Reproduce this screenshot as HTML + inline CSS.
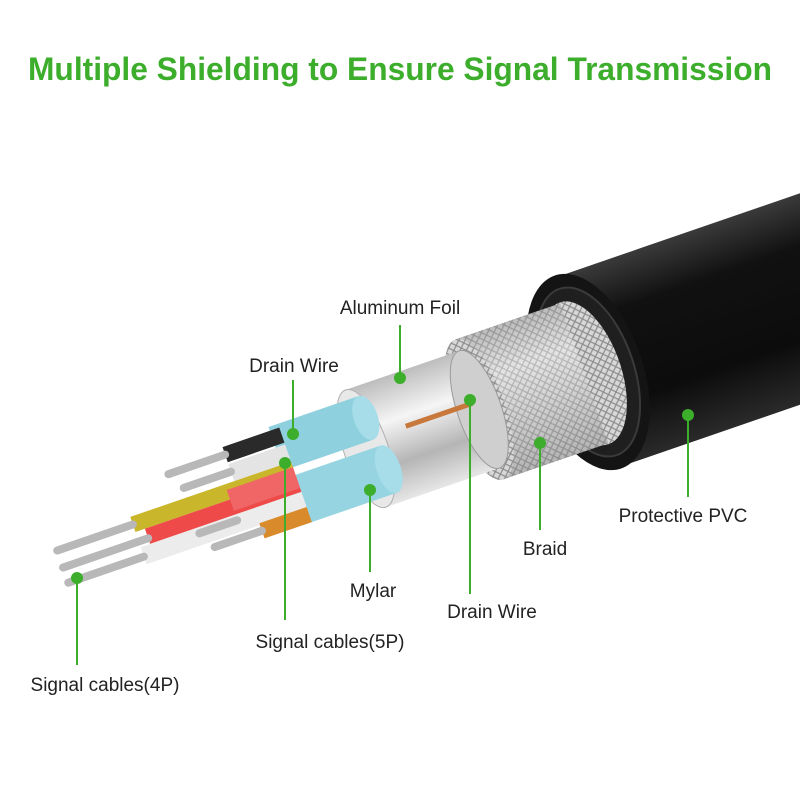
<!DOCTYPE html>
<html><head><meta charset="utf-8"><style>
html,body{margin:0;padding:0;background:#fff}
svg{display:block}
text{font-family:"Liberation Sans","DejaVu Sans",sans-serif}
</style></head><body>
<svg width="800" height="800" viewBox="0 0 800 800" xmlns="http://www.w3.org/2000/svg">
<defs>
<linearGradient id="blk" x1="0" y1="0" x2="0" y2="1">
<stop offset="0" stop-color="#3a3a3a"/><stop offset="0.25" stop-color="#111"/><stop offset="0.7" stop-color="#0c0c0c"/><stop offset="1" stop-color="#2a2a2a"/></linearGradient>
<linearGradient id="sil" x1="0" y1="0" x2="0" y2="1">
<stop offset="0" stop-color="#9a9a9a"/><stop offset="0.3" stop-color="#f2f2f2"/><stop offset="0.6" stop-color="#c9c9c9"/><stop offset="1" stop-color="#8a8a8a"/></linearGradient>
<linearGradient id="foil" x1="0" y1="0" x2="0" y2="1">
<stop offset="0" stop-color="#bdbdbd"/><stop offset="0.35" stop-color="#f5f5f5"/><stop offset="0.7" stop-color="#b5b5b5"/><stop offset="1" stop-color="#e6e6e6"/></linearGradient>
<pattern id="br" width="8" height="8" patternUnits="userSpaceOnUse">
<rect width="8" height="8" fill="#d8d8d8"/><path d="M0 0L8 8M8 0L0 8" stroke="#8c8c8c" stroke-width="1.2"/></pattern>
</defs>
<text x="28" y="80" textLength="744" lengthAdjust="spacingAndGlyphs" font-size="32" font-weight="bold" fill="#3cae2c">Multiple Shielding to Ensure Signal Transmission</text>

<g transform="translate(588,372) rotate(-19)">
  <rect x="0" y="-100" width="420" height="200" fill="url(#blk)"/>
  <ellipse cx="0" cy="0" rx="55" ry="102" fill="#141414"/>
  <ellipse cx="0" cy="0" rx="46" ry="88" fill="#1f1f1f" stroke="#3a3a3a" stroke-width="2"/>
  <ellipse cx="-4" cy="0" rx="37" ry="75" fill="url(#br)"/>
  <rect x="-115" y="-74" width="111" height="148" fill="url(#br)"/>
  <rect x="-115" y="-74" width="111" height="148" fill="url(#sil)" opacity="0.45"/>
  <ellipse cx="-115" cy="0" rx="26" ry="74" fill="url(#br)"/>
  <rect x="-235" y="-62" width="120" height="124" fill="url(#foil)"/>
  <ellipse cx="-115" cy="0" rx="22" ry="62" fill="#cfcfcf" stroke="#9a9a9a"/>
  <ellipse cx="-235" cy="0" rx="22" ry="62" fill="#e8e8e8" stroke="#b0b0b0"/>
  <line x1="-190" y1="-8" x2="-120" y2="-8" stroke="#c8783a" stroke-width="5"/>
  <rect x="-320" y="-52" width="95" height="46" fill="#8fd0de"/>
  <ellipse cx="-225" cy="-29" rx="12" ry="23" fill="#a7dde8"/>
  <rect x="-320" y="2" width="100" height="50" fill="#96d4e2"/>
  <ellipse cx="-220" cy="27" rx="12" ry="25" fill="#a7dde8"/>
  <rect x="-370" y="-48" width="60" height="16" fill="#2a2a2a"/>
  <rect x="-370" y="-30" width="60" height="18" fill="#e4e4e4"/>
  <rect x="-480" y="-12" width="170" height="16" fill="#c9b62a"/>
  <rect x="-470" y="4" width="160" height="16" fill="#ee4a4a"/>
  <rect x="-380" y="-6" width="70" height="22" fill="#f06666"/>
  <rect x="-480" y="20" width="170" height="18" fill="#ececec"/>
  <rect x="-360" y="36" width="50" height="16" fill="#d98a2a"/>
  <g stroke="#b8b8b8" stroke-width="8" stroke-linecap="round">
    <line x1="-560" y1="-4" x2="-480" y2="-4"/>
    <line x1="-560" y1="14" x2="-470" y2="14"/>
    <line x1="-560" y1="30" x2="-480" y2="30"/>
    <line x1="-430" y1="-40" x2="-370" y2="-40"/>
    <line x1="-420" y1="-22" x2="-370" y2="-22"/>
    <line x1="-410" y1="44" x2="-360" y2="44"/>
    <line x1="-420" y1="26" x2="-380" y2="26"/>
  </g>
</g>

<g stroke="#3cae2c" stroke-width="2" fill="none">
  <line x1="400" y1="325" x2="400" y2="378"/>
  <line x1="293" y1="380" x2="293" y2="432"/>
  <line x1="285" y1="463" x2="285" y2="620"/>
  <line x1="370" y1="490" x2="370" y2="572"/>
  <line x1="470" y1="400" x2="470" y2="594"/>
  <line x1="540" y1="443" x2="540" y2="530"/>
  <line x1="688" y1="415" x2="688" y2="497"/>
  <line x1="77" y1="578" x2="77" y2="665"/>
</g>
<g fill="#3cae2c">
  <circle cx="400" cy="378" r="6"/><circle cx="293" cy="434" r="6"/><circle cx="285" cy="463" r="6"/>
  <circle cx="370" cy="490" r="6"/><circle cx="470" cy="400" r="6"/><circle cx="540" cy="443" r="6"/>
  <circle cx="688" cy="415" r="6"/><circle cx="77" cy="578" r="6"/>
</g>
<g font-size="19" fill="#222">
  <text x="400" y="314" text-anchor="middle">Aluminum Foil</text>
  <text x="294" y="372" text-anchor="middle">Drain Wire</text>
  <text x="330" y="648" text-anchor="middle">Signal cables(5P)</text>
  <text x="373" y="597" text-anchor="middle">Mylar</text>
  <text x="492" y="618" text-anchor="middle">Drain Wire</text>
  <text x="545" y="555" text-anchor="middle">Braid</text>
  <text x="683" y="522" text-anchor="middle">Protective PVC</text>
  <text x="105" y="691" text-anchor="middle">Signal cables(4P)</text>
</g>
</svg>
</body></html>
